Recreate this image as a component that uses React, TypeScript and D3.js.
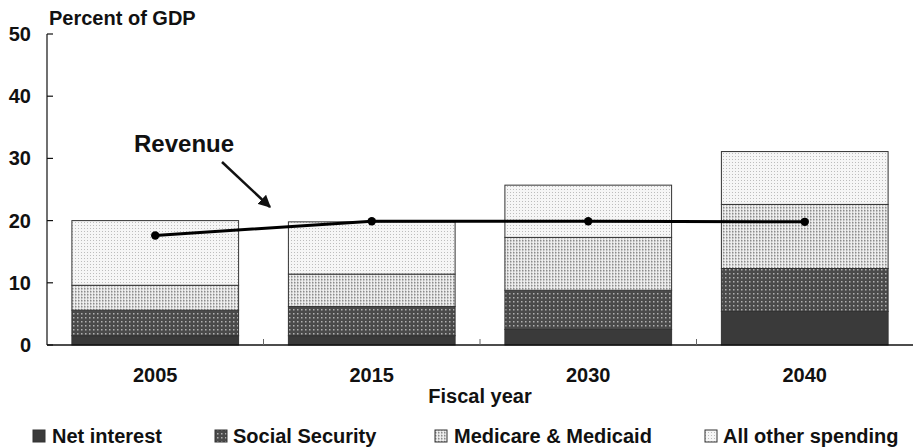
import React from "react";
import * as d3 from "d3";

const years = ["2005", "2015", "2030", "2040"];
const netInterest = [1.5, 1.5, 2.5, 5.4];
const socialSecurity = [4.1, 4.7, 6.3, 6.9];
const medicare = [4.0, 5.2, 8.5, 10.3];
const allOther = [10.4, 8.4, 8.4, 8.5];
const revenue = [17.6, 19.9, 19.9, 19.8];
const yTicks = [0, 10, 20, 30, 40, 50];
const seriesNames = ["Net interest", "Social Security", "Medicare & Medicaid", "All other spending"];
const seriesFills = ["url(#pNI)", "url(#pSS)", "url(#pMM)", "url(#pAO)"];

const W = 920;
const H = 447;
const FONT = "'Liberation Sans', Arial, Helvetica, sans-serif";

export default function App() {
  const x = d3.scaleBand<string>().domain(years).range([47, 913]).paddingInner(0.23).paddingOuter(0.115);
  const slot = d3.scaleBand<string>().domain(years).range([47, 913]).padding(0);
  const y = d3.scaleLinear().domain([0, 50]).range([345, 34]);

  const rows = years.map((yr, i) => ({
    year: yr,
    ni: netInterest[i],
    ss: socialSecurity[i],
    mm: medicare[i],
    ao: allOther[i],
  }));
  const stack = d3.stack<any>().keys(["ni", "ss", "mm", "ao"])(rows);

  const line = d3
    .line<number>()
    .x((_, i) => (slot(years[i]) as number) + slot.bandwidth() / 2)
    .y((d) => y(d));

  const legendSquares = [33, 215, 435, 705];
  const legendText = [52, 233, 454, 723];

  return (
    <svg width={W} height={H} style={{ position: "absolute", left: 0, top: 0 }} fontFamily={FONT}>
      <defs>
        <pattern id="pNI" width="4" height="4" patternUnits="userSpaceOnUse">
          <rect width="4" height="4" fill="#3a3a3a" />
        </pattern>
        <pattern id="pSS" width="4" height="4" patternUnits="userSpaceOnUse">
          <rect width="4" height="4" fill="#4a4a4a" />
          <rect x="1" y="1" width="1.5" height="1.5" fill="#b0b0b0" />
        </pattern>
        <pattern id="pMM" width="3" height="3" patternUnits="userSpaceOnUse">
          <rect width="3" height="3" fill="#eeeeee" />
          <rect x="0" y="0" width="1.5" height="1.5" fill="#8a8a8a" />
          <rect x="0" y="1.5" width="1" height="1" fill="#b8b8b8" />
        </pattern>
        <pattern id="pAO" width="3" height="3" patternUnits="userSpaceOnUse">
          <rect width="3" height="3" fill="#f6f6f6" />
          <rect x="0" y="0" width="1" height="1" fill="#bdbdbd" />
        </pattern>
        <marker id="arrow" viewBox="0 0 10 10" refX="9" refY="5" markerWidth="5" markerHeight="5" orient="auto">
          <path d="M0,0 L10,5 L0,10 z" fill="#111" />
        </marker>
      </defs>

      {/* bars */}
      {stack.map((layer, li) => (
        <g key={li}>
          {layer.map((d, i) => (
            <rect
              key={i}
              x={x(years[i])}
              y={y(d[1])}
              width={x.bandwidth()}
              height={y(d[0]) - y(d[1])}
              fill={seriesFills[li]}
              stroke="#333"
              strokeWidth={1}
            />
          ))}
        </g>
      ))}

      {/* axes */}
      <line x1={47} x2={47} y1={34} y2={345} stroke="#111" strokeWidth={1.2} />
      <line x1={47} x2={913} y1={345} y2={345} stroke="#111" strokeWidth={1.5} />
      {yTicks.map((t) => (
        <g key={t}>
          <line x1={47} x2={53} y1={y(t)} y2={y(t)} stroke="#111" strokeWidth={1.2} />
          <text x={31} y={y(t) + 7} textAnchor="end" fontSize={20} fontWeight="bold" fill="#111">
            {t}
          </text>
        </g>
      ))}
      {years.slice(1).map((yr) => (
        <line key={yr} x1={slot(yr)} x2={slot(yr)} y1={345} y2={339} stroke="#666" strokeWidth={1} />
      ))}
      {years.map((yr) => (
        <text
          key={yr}
          x={(slot(yr) as number) + slot.bandwidth() / 2}
          y={382}
          textAnchor="middle"
          fontSize={20}
          fontWeight="bold"
          fill="#111"
        >
          {yr}
        </text>
      ))}
      <text x={480} y={403} textAnchor="middle" fontSize={20} fontWeight="bold" fill="#111">
        Fiscal year
      </text>
      <text x={49} y={25} fontSize={20} fontWeight="bold" fill="#111">
        Percent of GDP
      </text>

      {/* revenue */}
      <path d={line(revenue) || ""} fill="none" stroke="#000" strokeWidth={3} />
      {revenue.map((v, i) => (
        <circle key={i} cx={(slot(years[i]) as number) + slot.bandwidth() / 2} cy={y(v)} r={4.2} fill="#000" />
      ))}
      <text x={134} y={152} fontSize={24} fontWeight="bold" fill="#111">
        Revenue
      </text>
      <line x1={222} y1={162} x2={270} y2={207} stroke="#111" strokeWidth={2.5} markerEnd="url(#arrow)" />

      {/* legend */}
      {seriesNames.map((n, i) => (
        <g key={n}>
          <rect x={legendSquares[i]} y={430} width={12} height={12} fill={seriesFills[i]} stroke="#333" strokeWidth={1} />
          <text x={legendText[i]} y={443} fontSize={20} fontWeight="bold" fill="#111">
            {n}
          </text>
        </g>
      ))}
    </svg>
  );
}
